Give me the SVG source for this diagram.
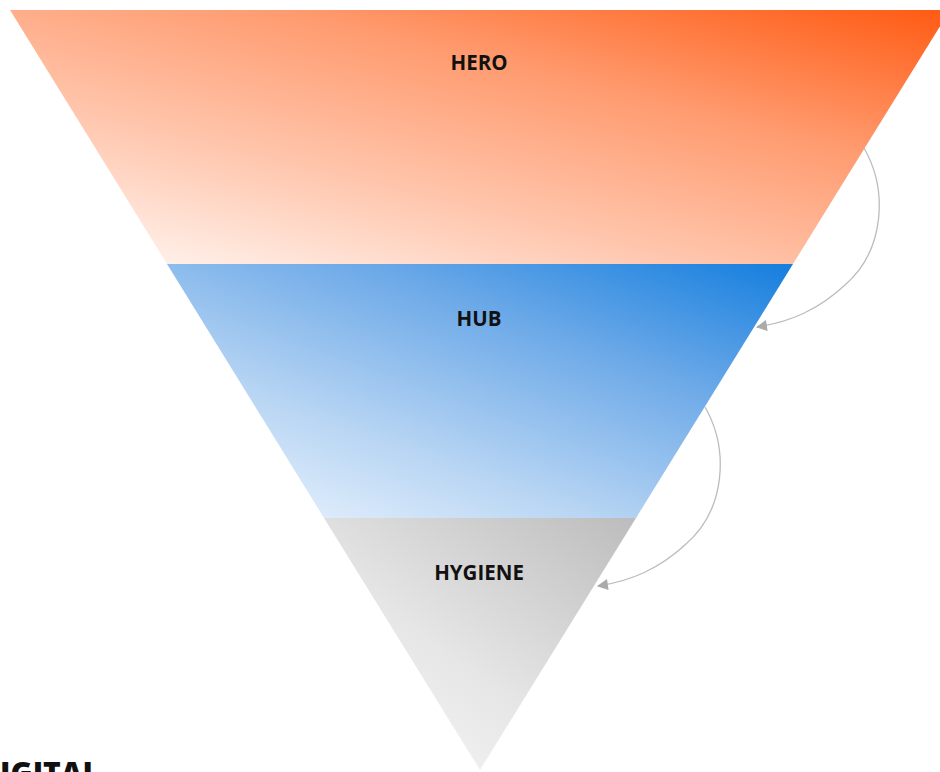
<svg xmlns="http://www.w3.org/2000/svg" width="940" height="772" viewBox="0 0 940 772">
<style>
.lbl{font-family:"Open Sans","Liberation Sans",sans-serif;font-weight:700;font-size:20.5px;fill:#111;text-anchor:middle}
.conn{fill:none;stroke:#bcbcbc;stroke-width:1.3}
.big{font-family:"Open Sans","Liberation Sans",sans-serif;font-weight:800;font-size:30px;fill:#111}
</style>
<defs>
<linearGradient id="gHero" x1="0.1" y1="1" x2="1" y2="0">
<stop offset="0" stop-color="#fff4ef"/>
<stop offset="0.3" stop-color="#ffc8b0"/>
<stop offset="0.65" stop-color="#ff9a6e"/>
<stop offset="1" stop-color="#ff5a12"/>
</linearGradient>
<linearGradient id="gHub" x1="0.1" y1="1" x2="1" y2="0">
<stop offset="0" stop-color="#eaf3fd"/>
<stop offset="0.3" stop-color="#b6d4f3"/>
<stop offset="0.65" stop-color="#6eaae8"/>
<stop offset="1" stop-color="#147ede"/>
</linearGradient>
<linearGradient id="gHyg" x1="0.1" y1="1" x2="1" y2="0">
<stop offset="0" stop-color="#f7f7f7"/>
<stop offset="0.4" stop-color="#e6e6e6"/>
<stop offset="1" stop-color="#bcbcbc"/>
</linearGradient>
<marker id="ah" viewBox="0 0 10 10" refX="9" refY="5" markerWidth="12" markerHeight="11" markerUnits="userSpaceOnUse" orient="auto">
<path d="M0,0 L10,5 L0,10 z" fill="#aaaaaa"/>
</marker>
</defs>
<g id="hero">
<polygon points="10,10 950,10 793,264 167,264" fill="url(#gHero)"/>
<text class="lbl" x="479" y="70">HERO</text>
</g>
<g id="hub">
<polygon points="167,264 793,264 636,518 324,518" fill="url(#gHub)"/>
<text class="lbl" x="479" y="326">HUB</text>
</g>
<g id="hygiene">
<polygon points="324,518 636,518 480,770" fill="url(#gHyg)"/>
<text class="lbl" x="479" y="580">HYGIENE</text>
</g>
<g id="connectors">
<path class="conn" d="M864,148 C888,190 885,250 845,285 C818,310 790,322 757,327" marker-end="url(#ah)"/>
<path class="conn" d="M705,407 C729,449 726,509 686,544 C659,569 631,581 598,586" marker-end="url(#ah)"/>
</g>
<text class="big" x="-22" y="784">DIGITAL</text>
</svg>
